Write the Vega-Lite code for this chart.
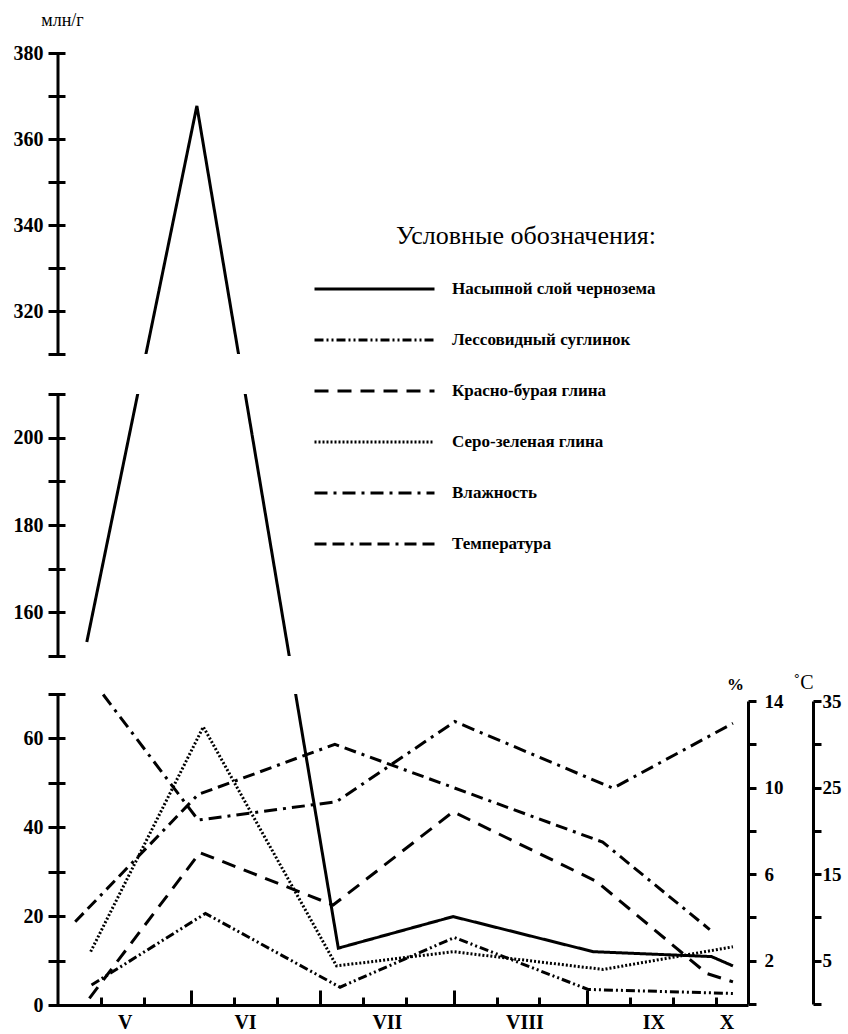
{
  "$schema": "https://vega.github.io/schema/vega-lite/v6.json",
  "width": 690,
  "height": 952,
  "autosize": "none",
  "padding": {"left": 58, "top": 53, "right": 100, "bottom": 29},
  "background": "white",
  "config": {
    "view": {"stroke": null},
    "font": "Liberation Serif",
    "axis": {
      "zindex": 1,
      "grid": false,
      "domainColor": "black",
      "domainWidth": 3,
      "tickColor": "black",
      "tickWidth": 3,
      "labelFont": "Liberation Serif",
      "labelFontWeight": "bold",
      "labelFontSize": 20,
      "labelColor": "black",
      "labelOverlap": false,
      "labelFlush": false,
      "titleFont": "Liberation Serif",
      "titleColor": "black"
    }
  },
  "datasets": {
    "soil": [
      {"series": "Насыпной слой чернозема", "day": 6.7, "value": 153.2},
      {"series": "Насыпной слой чернозема", "day": 32.3, "value": 367.7},
      {"series": "Насыпной слой чернозема", "day": 65.2, "value": 12.8},
      {"series": "Насыпной слой чернозема", "day": 91.9, "value": 19.9},
      {"series": "Насыпной слой чернозема", "day": 124.5, "value": 12.0},
      {"series": "Насыпной слой чернозема", "day": 152.0, "value": 10.9},
      {"series": "Насыпной слой чернозема", "day": 157.0, "value": 8.8},
      {"series": "Лессовидный суглинок", "day": 7.8, "value": 4.5},
      {"series": "Лессовидный суглинок", "day": 34.3, "value": 20.6},
      {"series": "Лессовидный суглинок", "day": 65.6, "value": 4.0},
      {"series": "Лессовидный суглинок", "day": 92.2, "value": 15.2},
      {"series": "Лессовидный суглинок", "day": 123.3, "value": 3.5},
      {"series": "Лессовидный суглинок", "day": 157.0, "value": 2.6},
      {"series": "Красно-бурая глина", "day": 7.3, "value": 1.5},
      {"series": "Красно-бурая глина", "day": 33.0, "value": 34.3},
      {"series": "Красно-бурая глина", "day": 64.0, "value": 22.5},
      {"series": "Красно-бурая глина", "day": 91.9, "value": 43.5},
      {"series": "Красно-бурая глина", "day": 125.3, "value": 27.8},
      {"series": "Красно-бурая глина", "day": 150.9, "value": 7.1},
      {"series": "Красно-бурая глина", "day": 157.0, "value": 5.2},
      {"series": "Серо-зеленая глина", "day": 7.6, "value": 12.0},
      {"series": "Серо-зеленая глина", "day": 33.8, "value": 62.6},
      {"series": "Серо-зеленая глина", "day": 64.8, "value": 8.8},
      {"series": "Серо-зеленая глина", "day": 91.9, "value": 12.0},
      {"series": "Серо-зеленая глина", "day": 126.8, "value": 8.0},
      {"series": "Серо-зеленая глина", "day": 157.0, "value": 13.1}
    ],
    "moist": [
      {"series": "Влажность", "day": 10.5, "value": 14.3},
      {"series": "Влажность", "day": 32.6, "value": 8.5},
      {"series": "Влажность", "day": 64.8, "value": 9.35},
      {"series": "Влажность", "day": 92.3, "value": 13.05},
      {"series": "Влажность", "day": 129.1, "value": 9.97},
      {"series": "Влажность", "day": 157.0, "value": 12.97}
    ],
    "temp": [
      {"series": "Температура", "day": 4.0, "value": 9.5},
      {"series": "Температура", "day": 32.6, "value": 24.2},
      {"series": "Температура", "day": 64.4, "value": 30.0},
      {"series": "Температура", "day": 126.7, "value": 18.7},
      {"series": "Температура", "day": 151.6, "value": 8.6}
    ],
    "segments": [
      {"lo": 0, "hi": 70},
      {"lo": 150, "hi": 210},
      {"lo": 310, "hi": 380}
    ],
    "gaps": [
      {"lo": 70, "hi": 150},
      {"lo": 210, "hi": 310}
    ]
  },
  "layer": [
    {
      "layer": [
        {
          "data": {"name": "soil"},
          "mark": {"type": "line", "color": "black", "strokeWidth": 3, "strokeCap": "butt"},
          "encoding": {
            "x": {
              "field": "day", "type": "quantitative",
              "scale": {"domain": [0, 160.5], "nice": false, "zero": false},
              "axis": {
                "title": null,
                "orient": "bottom",
                "zindex": 2,
                "ticks": false,
                "labelOverlap": false,
                "labelFlush": false,
                "labelPadding": 7,
                "labelFontSize": 20,
                "values": [15.5, 43.5, 76.5, 108.5, 138.5, 155.5],
                "labelExpr": "datum.value == 15.5 ? 'V' : datum.value == 43.5 ? 'VI' : datum.value == 76.5 ? 'VII' : datum.value == 108.5 ? 'VIII' : datum.value == 138.5 ? 'IX' : 'X'"
              }
            },
            "y": {
              "field": "value", "type": "quantitative",
              "scale": {"domain": [0, 70, 150, 210, 310, 380], "range": [952, 641, 603, 341, 301, 0], "nice": false, "zero": false},
              "axis": {
                "orient": "left",
                "zindex": 2,
                "domain": false,
                "offset": -7,
                "tickSize": 17,
                "labelPadding": 5,
                "labelFontSize": 20,
                "values": [0, 10, 20, 30, 40, 50, 60, 70, 150, 160, 170, 180, 190, 200, 210, 310, 320, 330, 340, 350, 360, 370, 380],
                "labelExpr": "datum.value % 20 == 0 ? datum.label : ''",
                "title": "млн/г",
                "titleAngle": 0,
                "titleAlign": "center",
                "titleBaseline": "middle",
                "titleFontWeight": "normal",
                "titleFontSize": 18,
                "titleX": -3,
                "titleY": -33
              }
            },
            "strokeDash": {
              "field": "series", "type": "nominal",
              "scale": {
                "domain": ["Насыпной слой чернозема", "Лессовидный суглинок", "Красно-бурая глина", "Серо-зеленая глина", "Влажность", "Температура"],
                "range": [[1, 0], [9, 3, 2, 3, 2, 3], [14, 9], [2, 2], [13, 6, 3, 6], [12, 6, 12, 6, 3, 6]]
              },
              "legend": {
                "orient": "none",
                "legendX": 255,
                "legendY": 170,
                "title": "Условные обозначения:",
                "titleFont": "Liberation Serif",
                "titleFontSize": 26,
                "titleFontWeight": "normal",
                "titleColor": "black",
                "titleAnchor": "end",
                "titleLimit": 500,
                "titlePadding": 30,
                "labelFont": "Liberation Serif",
                "labelFontSize": 17,
                "labelFontWeight": "bold",
                "labelColor": "black",
                "labelOffset": 16,
                "labelLimit": 400,
                "symbolType": "stroke",
                "symbolSize": 14400,
                "symbolStrokeWidth": 3,
                "symbolStrokeColor": "black",
                "clipHeight": 20,
                "rowPadding": 31
              }
            }
          }
        },
        {
          "data": {"name": "gaps"},
          "mark": {"type": "rect", "color": "white"},
          "encoding": {
            "y": {"field": "lo", "type": "quantitative", "scale": {"domain": [0, 70, 150, 210, 310, 380], "range": [952, 641, 603, 341, 301, 0], "nice": false, "zero": false}},
            "y2": {"field": "hi"}
          }
        },
        {
          "data": {"name": "segments"},
          "mark": {"type": "rule", "color": "black", "strokeWidth": 3},
          "encoding": {
            "x": {"datum": 0, "type": "quantitative", "scale": {"domain": [0, 160.5], "nice": false, "zero": false}},
            "y": {"field": "lo", "type": "quantitative", "scale": {"domain": [0, 70, 150, 210, 310, 380], "range": [952, 641, 603, 341, 301, 0], "nice": false, "zero": false}},
            "y2": {"field": "hi"}
          }
        }
      ]
    },
    {
      "data": {"name": "moist"},
      "mark": {"type": "line", "color": "black", "strokeWidth": 3, "strokeCap": "butt"},
      "encoding": {
        "x": {
          "field": "day", "type": "quantitative",
          "scale": {"domain": [0, 160.5], "nice": false, "zero": false},
          "axis": {
            "title": null,
            "orient": "bottom",
            "zindex": 2,
            "domain": false,
            "labels": false,
            "tickSize": -8,
            "values": [10, 20, 41, 51, 71, 81, 102, 112, 133, 143, 153]
          }
        },
        "y": {
          "field": "value", "type": "quantitative",
          "scale": {"domain": [0, 14], "range": [951, 648], "nice": false, "zero": false},
          "axis": {
            "orient": "right",
            "zindex": 2,
            "offset": 0,
            "tickSize": 8,
            "labelPadding": 8,
            "labelFontSize": 19,
            "values": [0, 2, 4, 6, 8, 10, 12, 14],
            "labelExpr": "datum.value % 4 == 2 ? datum.label : ''",
            "title": "%",
            "titleAngle": 0,
            "titleAlign": "center",
            "titleBaseline": "middle",
            "titleFontWeight": "bold",
            "titleFontSize": 17,
            "titleX": -13,
            "titleY": 631
          }
        },
        "strokeDash": {
          "field": "series", "type": "nominal",
          "scale": {
            "domain": ["Насыпной слой чернозема", "Лессовидный суглинок", "Красно-бурая глина", "Серо-зеленая глина", "Влажность", "Температура"],
            "range": [[1, 0], [9, 3, 2, 3, 2, 3], [14, 9], [2, 2], [13, 6, 3, 6], [12, 6, 12, 6, 3, 6]]
          }
        }
      }
    },
    {
      "data": {"name": "temp"},
      "mark": {"type": "line", "color": "black", "strokeWidth": 3, "strokeCap": "butt"},
      "encoding": {
        "x": {
          "field": "day", "type": "quantitative",
          "scale": {"domain": [0, 160.5], "nice": false, "zero": false},
          "axis": {
            "title": null,
            "orient": "bottom",
            "zindex": 2,
            "domain": false,
            "labels": false,
            "tickSize": -15,
            "values": [31, 61, 92, 123]
          }
        },
        "y": {
          "field": "value", "type": "quantitative",
          "scale": {"domain": [0, 35], "range": [951, 648], "nice": false, "zero": false},
          "axis": {
            "orient": "right",
            "zindex": 2,
            "offset": 65,
            "tickSize": 8,
            "labelPadding": 1,
            "labelFontSize": 19,
            "values": [0, 5, 10, 15, 20, 25, 30, 35],
            "labelExpr": "datum.value % 10 == 5 ? datum.label : ''",
            "title": "˚C",
            "titleAngle": 0,
            "titleAlign": "center",
            "titleBaseline": "middle",
            "titleFontWeight": "normal",
            "titleFontSize": 20,
            "titleX": -10,
            "titleY": 629
          }
        },
        "strokeDash": {
          "field": "series", "type": "nominal",
          "scale": {
            "domain": ["Насыпной слой чернозема", "Лессовидный суглинок", "Красно-бурая глина", "Серо-зеленая глина", "Влажность", "Температура"],
            "range": [[1, 0], [9, 3, 2, 3, 2, 3], [14, 9], [2, 2], [13, 6, 3, 6], [12, 6, 12, 6, 3, 6]]
          }
        }
      }
    }
  ],
  "resolve": {
    "scale": {"y": "independent", "x": "independent"},
    "axis": {"y": "independent", "x": "independent"}
  }
}
